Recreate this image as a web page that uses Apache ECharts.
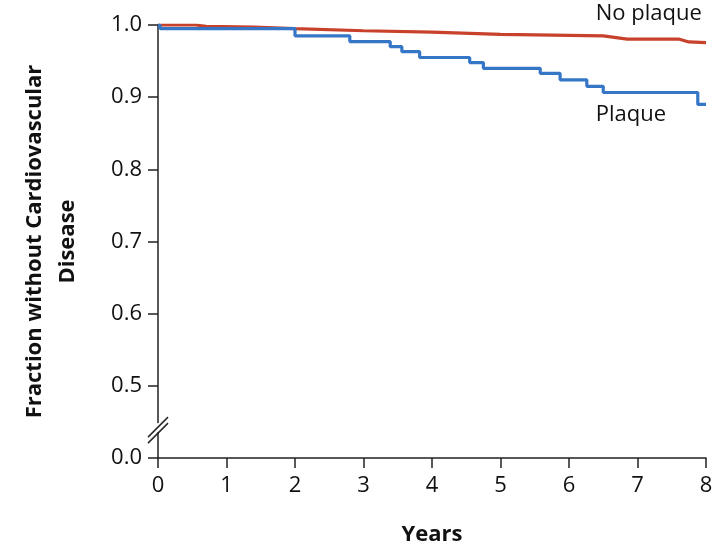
<!DOCTYPE html>
<html>
<head>
<meta charset="utf-8">
<script src="https://cdn.jsdelivr.net/npm/echarts@6/dist/echarts.min.js"></script>
<style>
html,body{margin:0;padding:0;background:#fff;}
#c{width:718px;height:548px;}
</style>
</head>
<body>
<div id="c"></div>
<script>
// Years ticks and y tick labels (axis is broken: lowest tick stands for 0.0)
const xTicks = [0, 1, 2, 3, 4, 5, 6, 7, 8];
const yTickLabels = ['0.0', '0.5', '0.6', '0.7', '0.8', '0.9', '1.0'];
const yTickValues = [0.4, 0.5, 0.6, 0.7, 0.8, 0.9, 1.0];

// No plaque curve: [year, fraction]
const noPlaqueYears = [0, 0.55, 0.7, 1.4, 2.0, 3.0, 4.0, 5.0, 6.5, 6.85, 7.6, 7.75, 8.0];
const noPlaqueValues = [1.0, 1.0, 0.998, 0.997, 0.995, 0.992, 0.990, 0.987, 0.985, 0.9805, 0.9805, 0.9765, 0.9755];

// Plaque curve (Kaplan-Meier steps): [year, fraction]
const plaqueYears = [0, 0.03, 2.0, 2.8, 3.39, 3.56, 3.82, 4.55, 4.75, 5.58, 5.87, 6.26, 6.5, 7.88, 8.0];
const plaqueValues = [1.0, 0.995, 0.985, 0.977, 0.970, 0.963, 0.955, 0.948, 0.940, 0.933, 0.924, 0.915, 0.9065, 0.890, 0.890];

const seriesNames = ['No plaque', 'Plaque'];
const FONT = 'Open Sans';
const RED = '#c8412b';
const BLUE = '#3577c6';
const INK = '#111';

const chart = echarts.init(document.getElementById('c'), null, {renderer: 'canvas'});

const zip = (xs, ys) => xs.map((x, i) => [x, ys[i]]);

const option = {
  animation: false,
  backgroundColor: '#fff',
  grid: {left: 158, right: 12, top: 25, bottom: 90, containLabel: false, outerBoundsMode: 'none'},
  xAxis: {
    type: 'value', min: 0, max: 8, interval: 1,
    name: 'Years', nameLocation: 'middle', nameGap: 66,
    nameTextStyle: {fontFamily: FONT, fontSize: 22, fontWeight: 'bold', color: INK},
    axisLine: {lineStyle: {color: '#222', width: 1.5}},
    axisTick: {inside: false, length: 10, lineStyle: {color: '#222', width: 1.5}},
    axisLabel: {margin: 17, fontFamily: FONT, fontSize: 22, color: INK,
      formatter: v => xTicks.includes(v) ? String(v) : ''},
    splitLine: {show: false}
  },
  yAxis: {
    type: 'value', min: 0.4, max: 1.0, interval: 0.1,
    name: 'Fraction without Cardiovascular\nDisease', nameLocation: 'middle', nameGap: 74,
    nameTextStyle: {fontFamily: FONT, fontSize: 22, fontWeight: 'bold', color: INK, lineHeight: 33, align: 'center'},
    axisLine: {show: true, lineStyle: {color: '#222', width: 1.5}},
    axisTick: {show: true, length: 10, lineStyle: {color: '#222', width: 1.5}},
    axisLabel: {margin: 16, fontFamily: FONT, fontSize: 22, color: INK,
      formatter: v => {
        let best = 0, d = 1e9;
        yTickValues.forEach((t, i) => { if (Math.abs(t - v) < d) { d = Math.abs(t - v); best = i; } });
        return yTickLabels[best];
      }},
    splitLine: {show: false}
  },
  series: [
    {name: seriesNames[0], type: 'line', data: zip(noPlaqueYears, noPlaqueValues),
      showSymbol: false, lineStyle: {color: RED, width: 3.2}, itemStyle: {color: RED}, z: 3},
    {name: seriesNames[1], type: 'line', step: 'end', data: zip(plaqueYears, plaqueValues),
      showSymbol: false, lineStyle: {color: BLUE, width: 3.2}, itemStyle: {color: BLUE}, z: 4}
  ]
};
chart.setOption(option);

// Curve labels and axis break marks, positioned from axis coordinates
const p1 = chart.convertToPixel({gridIndex: 0}, [6.39, 1.0152]);
const p2 = chart.convertToPixel({gridIndex: 0}, [6.39, 0.8726]);
const brk = chart.convertToPixel({gridIndex: 0}, [0, 0.44]);
chart.setOption({
  graphic: [
    {type: 'text', left: p1[0], top: p1[1] - 11, style: {text: seriesNames[0], fontFamily: FONT, fontSize: 22, fill: INK}},
    {type: 'text', left: p2[0], top: p2[1] - 13, style: {text: seriesNames[1], fontFamily: FONT, fontSize: 22, fill: INK}},
    {type: 'rect', shape: {x: brk[0] - 4, y: brk[1] - 6, width: 8, height: 9}, style: {fill: '#fff'}, z: 10},
    {type: 'line', shape: {x1: brk[0] - 10, y1: brk[1] + 8, x2: brk[0] + 10, y2: brk[1] - 12}, style: {stroke: '#222', lineWidth: 1.5}, z: 11},
    {type: 'line', shape: {x1: brk[0] - 10, y1: brk[1] + 14, x2: brk[0] + 10, y2: brk[1] - 6}, style: {stroke: '#222', lineWidth: 1.5}, z: 11}
  ]
});
</script>
</body>
</html>
